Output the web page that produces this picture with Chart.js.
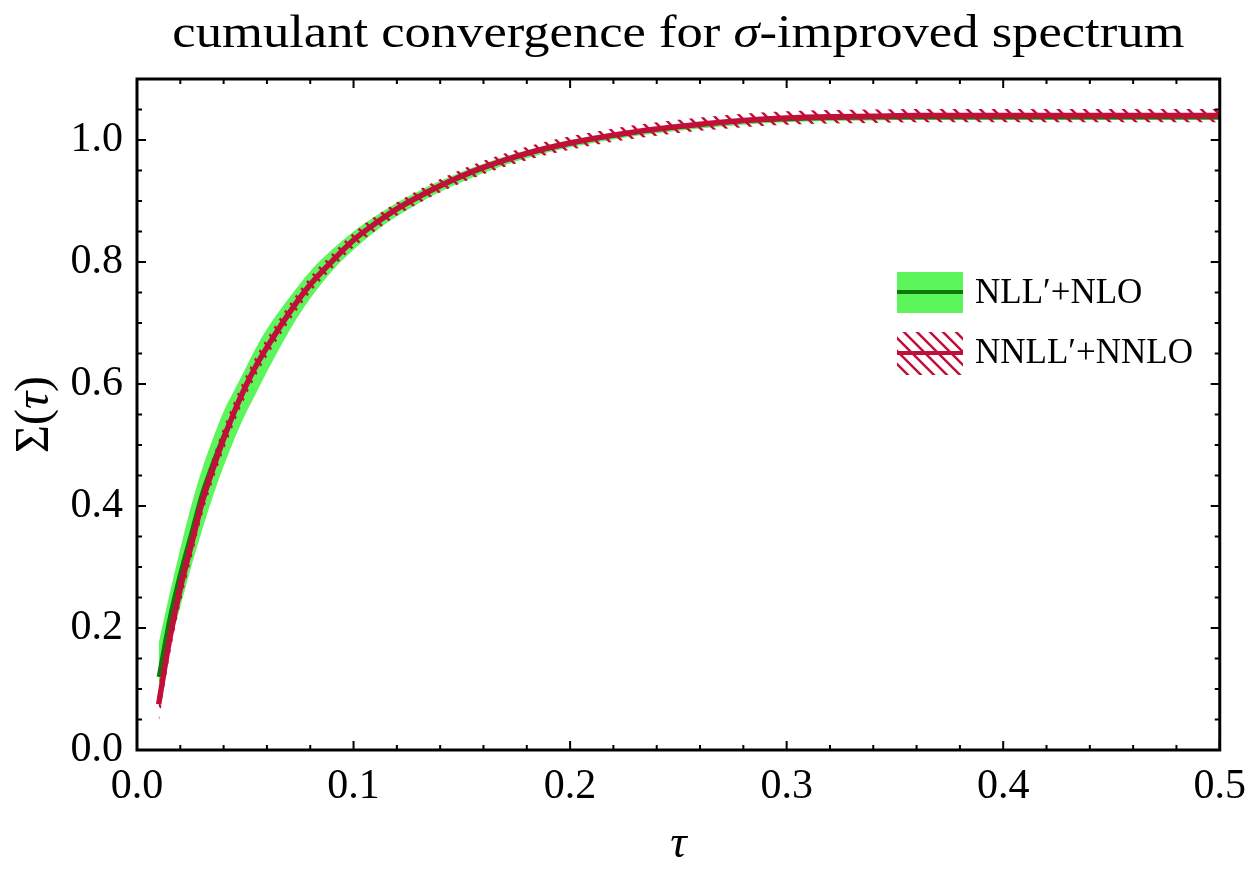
<!DOCTYPE html>
<html>
<head>
<meta charset="utf-8">
<script src="https://cdn.jsdelivr.net/npm/chart.js@4"></script>
<style>
  html, body { margin: 0; padding: 0; background: #fff; }
  #wrap { width: 1250px; height: 880px; }
</style>
</head>
<body>
<div id="wrap"><canvas id="cumulantChart" width="1250" height="880"></canvas></div>
<script>
  // Values
  const TAU = [0.010, 0.015, 0.020, 0.025, 0.030, 0.035, 0.040, 0.045, 0.050, 0.055,
    0.060, 0.070, 0.080, 0.090, 0.100, 0.110, 0.120, 0.130, 0.140, 0.150,
    0.160, 0.180, 0.200, 0.220, 0.240, 0.260, 0.280, 0.300, 0.320, 0.340,
    0.360, 0.380, 0.400, 0.420, 0.440, 0.460, 0.480, 0.500];

  // NLL'+NLO central and band
  const NLL_CENTRAL = [0.120, 0.215, 0.290, 0.355, 0.420, 0.470, 0.515, 0.555, 0.595, 0.630,
    0.660, 0.715, 0.762, 0.800, 0.835, 0.862, 0.886, 0.906, 0.924, 0.940,
    0.954, 0.977, 0.994, 1.007, 1.017, 1.025, 1.031, 1.034, 1.036, 1.037,
    1.037, 1.037, 1.037, 1.037, 1.037, 1.037, 1.037, 1.037];
  const NLL_LOWER = [0.105, 0.170, 0.235, 0.300, 0.360, 0.415, 0.465, 0.510, 0.550, 0.585,
    0.620, 0.685, 0.740, 0.785, 0.820, 0.850, 0.875, 0.896, 0.915, 0.931,
    0.946, 0.970, 0.988, 1.001, 1.011, 1.019, 1.025, 1.029, 1.031, 1.032,
    1.033, 1.033, 1.033, 1.033, 1.033, 1.033, 1.033, 1.033];
  const NLL_UPPER = [0.175, 0.255, 0.330, 0.400, 0.460, 0.510, 0.555, 0.590, 0.625, 0.660,
    0.690, 0.740, 0.785, 0.820, 0.850, 0.875, 0.897, 0.916, 0.933, 0.948,
    0.961, 0.983, 1.000, 1.012, 1.021, 1.029, 1.035, 1.038, 1.040, 1.041,
    1.041, 1.041, 1.041, 1.041, 1.041, 1.041, 1.041, 1.041];

  // NNLL'+NNLO central and band
  const NNLL_CENTRAL = [0.075, 0.180, 0.265, 0.335, 0.405, 0.460, 0.510, 0.555, 0.595, 0.630,
    0.660, 0.715, 0.763, 0.801, 0.836, 0.863, 0.887, 0.907, 0.925, 0.941,
    0.955, 0.978, 0.995, 1.008, 1.018, 1.026, 1.032, 1.036, 1.038, 1.039,
    1.040, 1.040, 1.040, 1.040, 1.040, 1.040, 1.040, 1.040];
  const NNLL_LOWER = [0.045, 0.152, 0.239, 0.311, 0.383, 0.440, 0.491, 0.537, 0.578, 0.614,
    0.645, 0.701, 0.750, 0.789, 0.824, 0.851, 0.876, 0.896, 0.914, 0.930,
    0.944, 0.967, 0.984, 0.997, 1.007, 1.015, 1.021, 1.025, 1.027, 1.028,
    1.029, 1.029, 1.029, 1.029, 1.029, 1.029, 1.029, 1.029];
  const NNLL_UPPER = [0.105, 0.208, 0.291, 0.359, 0.427, 0.480, 0.529, 0.573, 0.612, 0.646,
    0.675, 0.729, 0.776, 0.813, 0.848, 0.875, 0.898, 0.918, 0.936, 0.952,
    0.966, 0.989, 1.006, 1.019, 1.029, 1.037, 1.043, 1.047, 1.049, 1.050,
    1.051, 1.051, 1.051, 1.051, 1.051, 1.051, 1.051, 1.051];

  // Tick values
  const X_TICKS = [0.0, 0.1, 0.2, 0.3, 0.4, 0.5];
  const X_MINOR = [0.02, 0.04, 0.06, 0.08, 0.12, 0.14, 0.16, 0.18, 0.22, 0.24, 0.26, 0.28,
    0.32, 0.34, 0.36, 0.38, 0.42, 0.44, 0.46, 0.48];
  const Y_TICKS = [0.0, 0.2, 0.4, 0.6, 0.8, 1.0];
  const Y_MINOR = [0.05, 0.1, 0.15, 0.25, 0.3, 0.35, 0.45, 0.5, 0.55, 0.65, 0.7, 0.75,
    0.85, 0.9, 0.95, 1.05];

  const LEGEND_LABELS = ['NLL\u2032+NLO', 'NNLL\u2032+NNLO'];
  const TITLE_PARTS = [['cumulant convergence for ', false], ['\u03c3', true], ['-improved spectrum', false]];

  const SERIF = '"Liberation Serif", "DejaVu Serif", serif';
  const GREEN_BAND = '#5cf55c';
  const GREEN_LINE = '#0b7a0b';
  const RED = '#c0103a';

  // Diagonal hatch used for the NNLL' band
  function makeHatch(color) {
    const s = 13;
    const c = document.createElement('canvas');
    c.width = s; c.height = s;
    const g = c.getContext('2d');
    g.strokeStyle = color;
    g.lineWidth = 2.5;
    g.beginPath();
    g.moveTo(0, 0); g.lineTo(s, s);
    g.moveTo(-2, s - 2); g.lineTo(2, s + 2);
    g.moveTo(s - 2, -2); g.lineTo(s + 2, 2);
    g.stroke();
    return g.createPattern(c, 'repeat');
  }
  const hatch = makeHatch(RED);

  const pts = vals => TAU.map((t, i) => ({ x: t, y: vals[i] }));

  // Draw a run of text pieces, some italic, starting at x
  function drawPieces(ctx, parts, size, x, y) {
    parts.forEach(([txt, italic]) => {
      ctx.font = (italic ? 'italic ' : '') + size + 'px ' + SERIF;
      ctx.fillText(txt, x, y);
      x += ctx.measureText(txt).width;
    });
  }
  function piecesWidth(ctx, parts, size) {
    return parts.reduce((w, [txt, italic]) => {
      ctx.font = (italic ? 'italic ' : '') + size + 'px ' + SERIF;
      return w + ctx.measureText(txt).width;
    }, 0);
  }

  // Frame, inward ticks, titles and legend, Mathematica style
  const framePlugin = {
    id: 'frame',
    afterDatasetsDraw(chart) {
      const { ctx, chartArea: a, scales } = chart;
      const xs = scales.x, ys = scales.y;
      ctx.save();
      ctx.strokeStyle = '#000';
      ctx.lineWidth = 2;
      ctx.beginPath();
      const tickX = (v, len) => {
        const px = xs.getPixelForValue(v);
        ctx.moveTo(px, a.bottom); ctx.lineTo(px, a.bottom - len);
        ctx.moveTo(px, a.top); ctx.lineTo(px, a.top + len);
      };
      const tickY = (v, len) => {
        const py = ys.getPixelForValue(v);
        ctx.moveTo(a.left, py); ctx.lineTo(a.left + len, py);
        ctx.moveTo(a.right, py); ctx.lineTo(a.right - len, py);
      };
      X_TICKS.forEach(v => tickX(v, 9));
      X_MINOR.forEach(v => tickX(v, 5));
      Y_TICKS.forEach(v => tickY(v, 9));
      Y_MINOR.forEach(v => tickY(v, 5));
      ctx.stroke();
      ctx.lineWidth = 3;
      ctx.strokeRect(a.left, a.top, a.right - a.left, a.bottom - a.top);
      ctx.restore();
    },
    afterDraw(chart) {
      const { ctx, chartArea: a } = chart;
      const cx = (a.left + a.right) / 2;
      ctx.save();
      ctx.fillStyle = '#000';
      ctx.textBaseline = 'alphabetic';
      ctx.textAlign = 'left';

      // title, stretched sideways to the width of the original lettering
      const tw = piecesWidth(ctx, TITLE_PARTS, 46);
      const stretch = 1012 / tw;
      ctx.save();
      ctx.translate(cx, 47);
      ctx.scale(stretch, 1);
      drawPieces(ctx, TITLE_PARTS, 46, -tw / 2, 0);
      ctx.restore();

      // x axis title
      ctx.font = 'italic 46px ' + SERIF;
      ctx.textAlign = 'center';
      ctx.fillText('\u03c4', cx, 857);

      // y axis title, rotated
      ctx.save();
      ctx.translate(48, (a.top + a.bottom) / 2);
      ctx.rotate(-Math.PI / 2);
      ctx.textAlign = 'left';
      const yParts = [['\u03a3(', false], ['\u03c4', true], [')', false]];
      const yw = piecesWidth(ctx, yParts, 48);
      drawPieces(ctx, yParts, 48, -yw / 2, 0);
      ctx.restore();

      // legend
      const lx = 897, lw = 66;
      ctx.fillStyle = GREEN_BAND;
      ctx.fillRect(lx, 272, lw, 41);
      ctx.fillStyle = hatch;
      ctx.fillRect(lx, 332, lw, 43);
      ctx.lineWidth = 4;
      ctx.strokeStyle = GREEN_LINE;
      ctx.beginPath(); ctx.moveTo(lx, 292); ctx.lineTo(lx + lw, 292); ctx.stroke();
      ctx.strokeStyle = RED;
      ctx.beginPath(); ctx.moveTo(lx, 353); ctx.lineTo(lx + lw, 353); ctx.stroke();
      ctx.fillStyle = '#000';
      ctx.textAlign = 'left';
      ctx.font = '35px ' + SERIF;
      ctx.fillText(LEGEND_LABELS[0], 975, 303);
      ctx.fillText(LEGEND_LABELS[1], 975, 363);
      ctx.restore();
    }
  };

  const lineStyle = { pointRadius: 0, cubicInterpolationMode: 'monotone', fill: false };

  new Chart(document.getElementById('cumulantChart'), {
    type: 'line',
    data: {
      datasets: [
        { ...lineStyle, label: 'NNLL central', data: pts(NNLL_CENTRAL), borderColor: RED, borderWidth: 5.5, order: 0 },
        { ...lineStyle, label: 'NNLL lower', data: pts(NNLL_LOWER), borderWidth: 0, borderColor: 'transparent', order: 2 },
        { ...lineStyle, label: 'NNLL upper', data: pts(NNLL_UPPER), borderWidth: 0, borderColor: 'transparent',
          fill: '-1', backgroundColor: hatch, order: 1 },
        { ...lineStyle, label: 'NLL central', data: pts(NLL_CENTRAL), borderColor: GREEN_LINE, borderWidth: 4, order: 3 },
        { ...lineStyle, label: 'NLL lower', data: pts(NLL_LOWER), borderWidth: 0, borderColor: 'transparent', order: 5 },
        { ...lineStyle, label: 'NLL upper', data: pts(NLL_UPPER), borderWidth: 0, borderColor: 'transparent',
          fill: '-1', backgroundColor: GREEN_BAND, order: 4 }
      ]
    },
    options: {
      responsive: false,
      animation: false,
      layout: { padding: { left: 0, right: 26, top: 79, bottom: 0 }, autoPadding: false },
      plugins: {
        legend: { display: false },
        tooltip: { enabled: false },
        title: { display: false }
      },
      scales: {
        x: {
          type: 'linear',
          min: 0,
          max: 0.5,
          grid: { display: false },
          border: { display: false },
          afterBuildTicks: s => { s.ticks = X_TICKS.map(v => ({ value: v })); },
          afterFit: s => { s.height = 130; },
          ticks: {
            color: '#000',
            padding: 4,
            maxRotation: 0,
            font: { family: SERIF, size: 42 },
            callback: v => v.toFixed(1)
          }
        },
        y: {
          min: 0,
          max: 1.1,
          grid: { display: false },
          border: { display: false },
          afterBuildTicks: s => { s.ticks = Y_TICKS.map(v => ({ value: v })); },
          afterFit: s => { s.width = 137; },
          ticks: {
            color: '#000',
            padding: 6,
            font: { family: SERIF, size: 42 },
            callback: v => v.toFixed(1)
          }
        }
      }
    },
    plugins: [framePlugin]
  });
</script>
</body>
</html>
